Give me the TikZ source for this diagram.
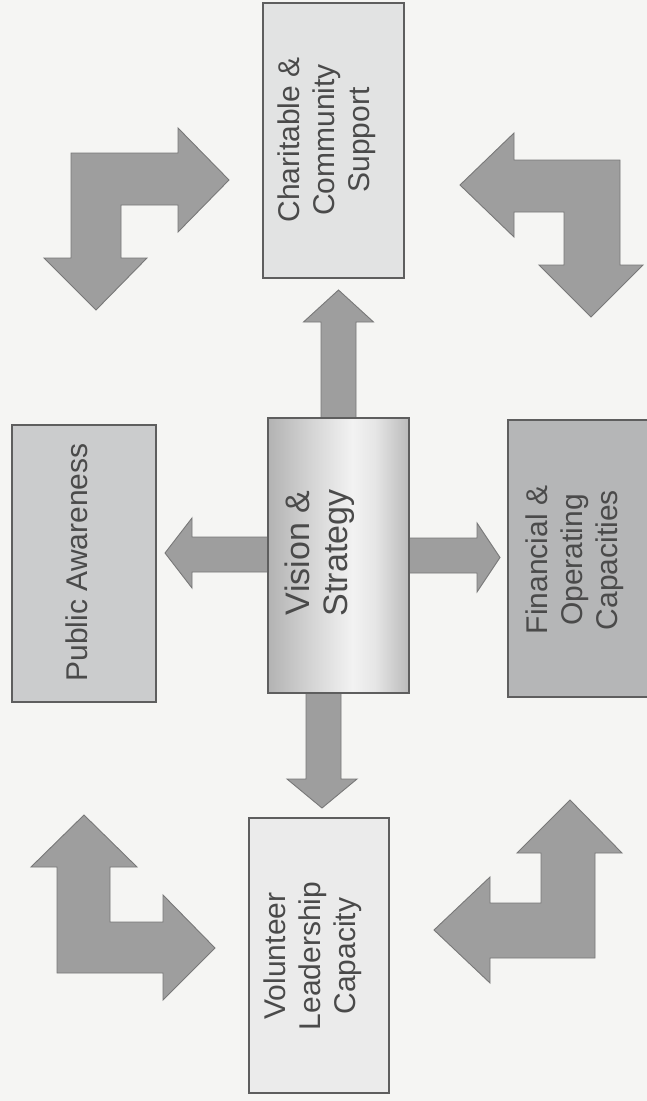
\documentclass[tikz,border=0pt]{standalone}
\usepackage{fontspec}
\setmainfont{Liberation Sans}
\usetikzlibrary{calc}
\definecolor{bg}{HTML}{F5F5F3}
\definecolor{txtc}{HTML}{4A4A4A}
\definecolor{edge}{HTML}{5E5E5E}
\definecolor{arrfill}{HTML}{9E9E9E}
\definecolor{arredge}{HTML}{787878}
\definecolor{chf}{HTML}{E2E3E3}
\definecolor{puf}{HTML}{CBCCCD}
\definecolor{fif}{HTML}{B5B6B7}
\definecolor{vof}{HTML}{EBEBEB}
\pgfdeclarehorizontalshading{visshade}{100bp}{%
  color(0bp)=(black!30); color(25bp)=(black!30); color(40bp)=(black!17);
  color(55bp)=(black!5); color(63bp)=(black!10); color(75bp)=(black!27); color(100bp)=(black!27)}
\tikzset{
  boxnode/.style={draw=edge, line width=1.2pt, inner sep=0pt, outer sep=0pt},
  txt/.style={text=txtc, align=center, inner sep=0pt, rotate=90, font=\fontsize{30}{35}\selectfont},
  blockarrow/.style={fill=arrfill, draw=arredge, line width=0.9pt, line join=miter}
}
\begin{document}
\begin{tikzpicture}[x=1pt,y=-1pt]
\fill[bg] (0,0) rectangle (647,1101);
\useasboundingbox (0,0) rectangle (647,1101);
\clip (0,0) rectangle (647,1101);

% boxes
\node[boxnode, fill=chf, minimum width=141pt, minimum height=275pt] (ch) at (333.5,140.5) {};
\node[boxnode, fill=puf, minimum width=144pt, minimum height=277pt] (pu) at (84,563.5) {};
\node[boxnode, fill=fif, minimum width=150pt, minimum height=277pt] (fi) at (583,558.5) {};
\node[boxnode, fill=vof, minimum width=140pt, minimum height=275pt] (vo) at (319,955.5) {};

% straight block arrows from Vision & Strategy (drawn behind it)
\coordinate (vn) at (338.5,418);
\coordinate (vs) at (338.5,693);
\coordinate (vw) at (268,555.5);
\coordinate (ve) at (409,555.5);
\draw[blockarrow] ($(vn)+(-17.5,0)$) -- ++(0,-96) -- ++(-17.5,0) -- ++(35,-32) -- ++(35,32) -- ++(-17.5,0) -- ++(0,96) -- cycle;
\draw[blockarrow] ($(vs)+(-32.5,0)$) -- ++(0,86) -- ++(-19,0) -- ++(35,29) -- ++(35,-29) -- ++(-16,0) -- ++(0,-86) -- cycle;
\draw[blockarrow] ($(vw)+(0,-18.5)$) -- ++(-76,0) -- ++(0,-19) -- ++(-27,35) -- ++(27,35) -- ++(0,-16) -- ++(76,0) -- cycle;
\draw[blockarrow] ($(ve)+(0,-17.5)$) -- ++(68,0) -- ++(0,-15) -- ++(23,34.5) -- ++(-23,34.5) -- ++(0,-19) -- ++(-68,0) -- cycle;

\node[boxnode, shading=visshade, minimum width=141pt, minimum height=275pt] (vis) at (338.5,555.5) {};

% bent block arrows
\draw[blockarrow] (71,153) -- (178,153) -- (178,128) -- (229,180) -- (178,232) -- (178,205) -- (121,205) -- (121,258) -- (147,258) -- (96,310) -- (44,258) -- (71,258) -- cycle;
\draw[blockarrow] (620,160) -- (514,160) -- (514,133) -- (460,185) -- (514,237) -- (514,212) -- (564,212) -- (564,265) -- (539,265) -- (591,317) -- (643,265) -- (620,265) -- cycle;
\draw[blockarrow] (84,815) -- (137,867) -- (110,867) -- (110,922) -- (163,922) -- (163,895) -- (215,948) -- (163,1000) -- (163,973) -- (57,973) -- (57,867) -- (31,867) -- cycle;
\draw[blockarrow] (570,800) -- (622,853) -- (595,853) -- (595,958) -- (490,958) -- (490,983) -- (434,930) -- (490,877) -- (490,903) -- (541,903) -- (541,853) -- (517,853) -- cycle;

% texts
\node[txt] (chT) at (327,140) {Charitable \&\\Community\\Support};
\node[txt, font=\fontsize{34}{38}\selectfont] (visT) at (320,553) {Vision \&\\Strategy};
\node[txt] (puT) at (77,562.5) {Public Awareness};
\node[txt] (fiT) at (575,560) {Financial \&\\Operating\\Capacities};
\node[txt] (voT) at (313,956) {Volunteer\\Leadership\\Capacity};
\end{tikzpicture}
\end{document}
